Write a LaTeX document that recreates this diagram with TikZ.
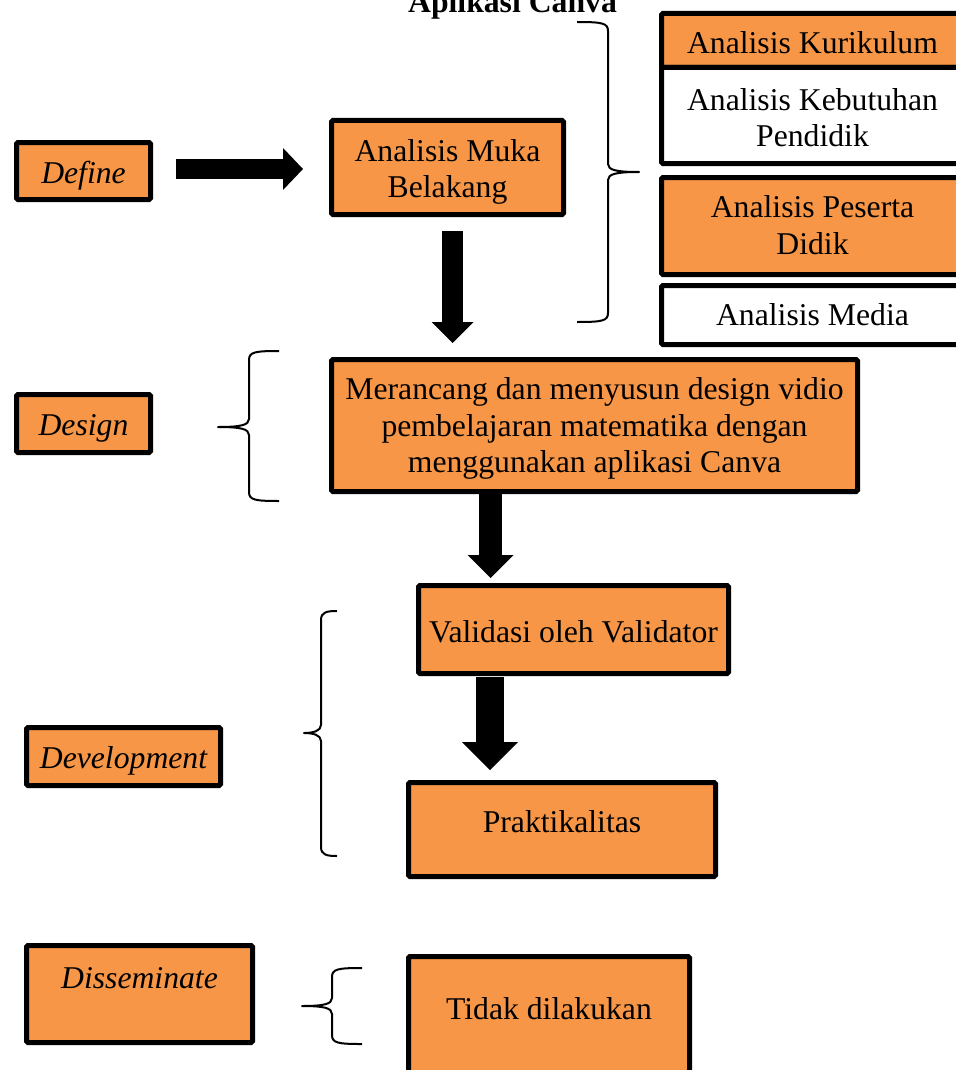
\documentclass[tikz,border=0pt]{standalone}
\usepackage{fontspec}
\setmainfont{Liberation Serif}
\usetikzlibrary{arrows.meta,calc}
\definecolor{orng}{HTML}{F79646}
\newcommand\mybrace[7]{% xend xspine xtip ytop ymid ybot dir
  \draw[brc] (#1,#4) .. controls (#2+6*#7,#4) and (#2,#4+1) .. (#2,#4+9)
    -- (#2,#5-8) .. controls (#2,#5-2) and (#2-8*#7,#5) .. (#3,#5)
    .. controls (#2-8*#7,#5) and (#2,#5+2) .. (#2,#5+8)
    -- (#2,#6-9) .. controls (#2,#6-1) and (#2+6*#7,#6) .. (#1,#6);}
\begin{document}
\begin{tikzpicture}[x=1pt,y=-1pt,
  every node/.style={font=\fontsize{31.7}{36.5}\selectfont},
  box/.style={draw, line width=5pt, fill=orng, rounded corners=1.5pt, inner sep=0pt, align=center},
  wbox/.style={box, fill=white},
  lab/.style={box, font=\fontsize{31.7}{36.5}\selectfont\itshape},
  hd/.style 2 args={text height=#1pt, text depth=#2pt},
  brc/.style={line width=2pt, line join=round},
  barrow/.style n args={3}{line width=#1pt, -{Triangle[width=#2pt,length=#3pt,line width=0pt]}}]
\useasboundingbox (0,0) rectangle (955,1070);

% title (partly cut off)
\node[font=\fontsize{31.7}{36.5}\selectfont\bfseries, anchor=base] (title) at (512.5,13) {Aplikasi Canva};

% left labels
\node[lab, minimum width=134pt, hd={40.5}{16.5}] (define) at (83.5,171) {Define};
\node[lab, minimum width=134pt, hd={40.5}{17.5}] (design) at (83.5,423.5) {Design};
\node[lab, minimum width=194pt, hd={40.5}{17.5}] (devel) at (123.5,756.5) {Development};
\node[lab, minimum width=226pt, hd={42.5}{54.5}] (dissem) at (139.5,994) {Disseminate};

% main column
\node[box, minimum width=232pt, hd={77}{17}] (muka) at (447.5,167.5) {Analisis Muka\\Belakang};
\node[box, minimum width=526pt, hd={113}{19}] (merancang) at (594.5,425.5) {Merancang dan menyusun design vidio\\pembelajaran matematika dengan\\menggunakan aplikasi Canva};
\node[box, minimum width=310pt, hd={57}{31}] (validasi) at (573.5,629.5) {Validasi oleh Validator};
\node[box, minimum width=307pt, hd={49.5}{44.5}] (prak) at (562,829.5) {Praktikalitas};
\node[box, minimum width=281pt, hd={62.5}{58.5}] (tidak) at (549,1017) {Tidak dilakukan};

% right column
\node[box, minimum width=302pt, hd={40}{14}] (kurikulum) at (812.5,40.5) {Analisis Kurikulum};
\node[wbox, minimum width=302pt, hd={79}{17}] (kebutuhan) at (812.5,115.5) {Analisis Kebutuhan\\Pendidik};
\node[box, minimum width=302pt, hd={76.5}{20.5}] (peserta) at (812.5,226) {Analisis Peserta\\Didik};
\node[wbox, minimum width=302pt, hd={39.5}{19.5}] (media) at (812.5,315) {Analisis Media};

% braces
\mybrace{577}{608}{639}{22}{172}{322}{-1}
\mybrace{279}{249}{218}{351}{427}{501}{1}
\mybrace{337}{321}{304}{611}{733}{856}{1}
\mybrace{362}{332}{302}{968}{1006}{1044}{1}

% block arrows
\coordinate (c2) at (490.5,0);
\coordinate (c3) at (490,0);
\draw[barrow={20}{42}{20}] ($(define.east)+(23,-2)$) -- ($(muka.west)+(-26,1.5)$);
\draw[barrow={21}{42}{21}] ($(muka.south)+(5,14)$) -- ($(muka.south |- merancang.north)+(5,-14)$);
\draw[barrow={23}{46}{23}] (merancang.south -| c2) -- ($(validasi.north -| c2)+(0,-5)$);
\draw[barrow={28}{56}{28}] ($(validasi.south -| c3)+(0,1)$) -- ($(prak.north -| c3)+(0,-10)$);
\end{tikzpicture}
\end{document}
